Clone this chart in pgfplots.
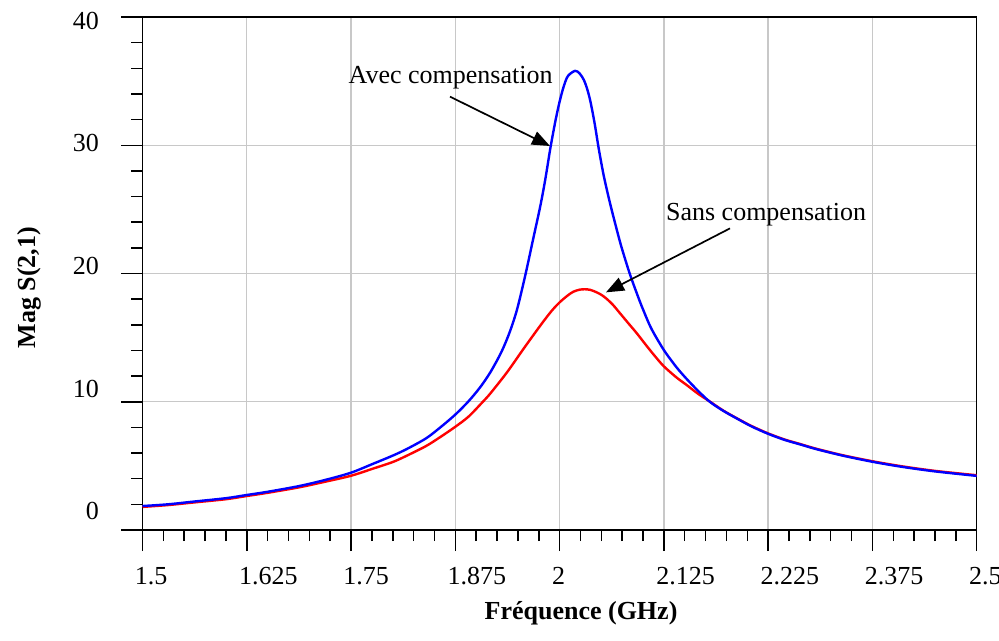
\documentclass[border=0pt]{standalone}
\usepackage{fontspec}
\setmainfont{Liberation Serif}
\usepackage{pgfplots}
\pgfplotsset{compat=1.18}
\usetikzlibrary{arrows.meta}

\pgfplotstableread{
f v
1.500 1.87
1.530 2.00
1.562 2.22
1.600 2.48
1.625 2.73
1.650 2.98
1.688 3.43
1.720 3.92
1.750 4.47
1.777 5.18
1.800 5.80
1.817 6.32
1.840 7.15
1.857 8.00
1.875 9.00
1.891 10.05
1.905 11.15
1.917 12.3
1.930 13.85
1.940 15.4
1.949 17.2
1.959 19.9
1.968 22.6
1.977 25.3
1.983 27.4
1.989 29.8
1.995 31.9
2.000 33.4
2.005 34.6
2.010 35.4
2.0185 35.8
2.024 35.6
2.029 35.1
2.033 34.4
2.037 33.4
2.042 31.7
2.047 29.7
2.053 27.6
2.060 25.6
2.067 23.8
2.074 22.1
2.084 20.0
2.094 18.2
2.100 17.2
2.110 15.7
2.125 14.03
2.140 12.7
2.152 11.8
2.166 10.85
2.180 10.0
2.196 9.3
2.212 8.71
2.230 8.08
2.250 7.5
2.270 7.02
2.288 6.68
2.308 6.30
2.340 5.79
2.375 5.32
2.410 4.93
2.450 4.57
2.500 4.22
}\avec

\pgfplotstableread{
f v
1.500 1.80
1.530 1.94
1.562 2.15
1.600 2.40
1.625 2.65
1.650 2.90
1.688 3.33
1.720 3.78
1.750 4.23
1.777 4.80
1.800 5.30
1.817 5.80
1.840 6.55
1.857 7.25
1.875 8.05
1.891 8.85
1.908 10.0
1.917 10.65
1.937 12.3
1.957 14.15
1.977 15.95
1.990 17.05
2.000 17.75
2.010 18.3
2.0165 18.58
2.024 18.74
2.0305 18.77
2.037 18.72
2.0445 18.53
2.0505 18.32
2.0565 18.02
2.064 17.55
2.0724 16.9
2.082 16.15
2.0924 15.35
2.105 14.3
2.115 13.5
2.125 12.76
2.140 11.9
2.1524 11.3
2.166 10.62
2.180 10.02
2.196 9.32
2.212 8.73
2.230 8.11
2.250 7.53
2.270 7.05
2.288 6.71
2.308 6.33
2.340 5.82
2.375 5.36
2.410 4.97
2.450 4.61
2.500 4.27
}\sans

\definecolor{cblue}{RGB}{0,0,255}
\definecolor{cred}{RGB}{255,0,0}
\definecolor{cgrid}{RGB}{200,200,200}

\begin{document}
\begin{tikzpicture}
\begin{axis}[
  width=417.1pt, height=256.5pt, scale only axis,
  xmin=1.5, xmax=2.5, ymin=0, ymax=40,
  xtick={1.5,1.625,1.75,1.875,2,2.125,2.25,2.375,2.5},
  xticklabels={1.5,1.625,1.75,1.875,2,2.125,2.225,2.375,2.5},
  ytick={0,10,20,30,40},
  yticklabels={},
  minor x tick num=4, minor y tick num=4,
  xtick pos=bottom, ytick pos=left,
  tick align=outside,
  major tick length=10.5pt,
  minor tick length=5.5pt,
  grid=major,
  major grid style={cgrid, line width=0.7pt},
  axis line style={black, line width=0.75pt},
  tick style={black, line width=0.75pt},
  every tick label/.append style={font=\fontsize{13}{15}\selectfont},
  xticklabel style={anchor=north west, inner sep=0pt, xshift=-4pt, yshift=-8pt},
  extra y ticks={1.48,11.03,20.59,30.14,39.69},
  extra y tick labels={0,10,20,30,40},
  extra y tick style={grid=none, major tick length=0pt, tick style={draw=none},
     yticklabel style={anchor=east, inner sep=0pt, xshift=-21.6pt}},
  xlabel={\textbf{Fréquence (GHz)}},
  xlabel style={at={(rel axis cs:0.5257,-0.1754)}, anchor=base, inner sep=0pt, font=\fontsize{13}{15}\selectfont},
  ylabel={\textbf{Mag S(2,1)}},
  ylabel style={at={(rel axis cs:-0.1285,0.4727)}, anchor=base, inner sep=0pt, font=\fontsize{13}{15}\selectfont},
]
\addplot[cred, line width=1.2pt, smooth, tension=0.5] table[x=f, y=v] {\sans};
\addplot[cblue, line width=1.2pt, smooth, tension=0.5] table[x=f, y=v] {\avec};
\node[anchor=base west, inner sep=0pt, font=\fontsize{13}{15}\selectfont] at (axis cs:1.7467,34.83) {Avec compensation};
\draw[black, line width=0.85pt, -{Triangle[length=9pt,width=7pt]}] (axis cs:1.8686,33.79) -- (axis cs:1.9885,29.94);
\node[anchor=base west, inner sep=0pt, font=\fontsize{13}{15}\selectfont] at (axis cs:2.1272,24.17) {Sans compensation};
\draw[black, line width=0.85pt, -{Triangle[length=9pt,width=7pt]}] (axis cs:2.2043,23.52) -- (axis cs:2.0556,18.53);
\end{axis}
\pgfresetboundingbox
\path[use as bounding box] (-71.25pt,-55.5pt) rectangle (428.25pt,265pt);
\end{tikzpicture}
\end{document}
